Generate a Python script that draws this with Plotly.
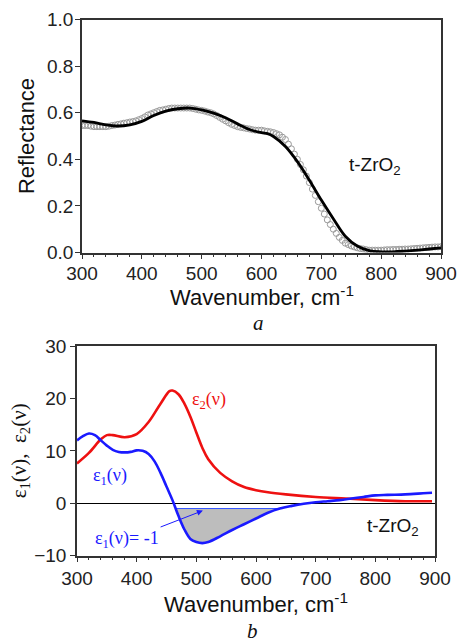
import numpy as np
import plotly.graph_objects as go

# ---------------- data: panel a (reflectance) ----------------
fit_x = [300, 320, 340, 360, 380, 400, 420, 440, 460, 480, 500, 520, 540, 560, 580, 600, 610,
         620, 640, 660, 680, 700, 720, 740, 760, 780, 800, 820, 840, 860, 880, 900]
fit_r = [0.565, 0.558, 0.548, 0.543, 0.548, 0.563, 0.588, 0.607, 0.617, 0.620, 0.612, 0.598,
         0.578, 0.552, 0.528, 0.514, 0.510, 0.498, 0.455, 0.390, 0.310, 0.225, 0.145, 0.070,
         0.028, 0.008, 0.003, 0.003, 0.006, 0.010, 0.015, 0.020]

exp_x = list(range(300, 901, 5))
exp_r = [
    0.545, 0.545, 0.545, 0.542, 0.540, 0.540, 0.540, 0.540, 0.540, 0.542,
    0.545, 0.547, 0.550, 0.552, 0.555, 0.557, 0.560, 0.562, 0.565, 0.570,
    0.575, 0.582, 0.590, 0.595, 0.600, 0.605, 0.610, 0.612, 0.615, 0.618,
    0.620, 0.620, 0.620, 0.620, 0.620, 0.620, 0.620, 0.618, 0.615, 0.612,
    0.610, 0.607, 0.603, 0.600, 0.595, 0.588, 0.580, 0.572, 0.565, 0.557,
    0.550, 0.545, 0.540, 0.537, 0.535, 0.532, 0.530, 0.527, 0.525, 0.525,
    0.525, 0.522, 0.520, 0.518, 0.515, 0.510, 0.505, 0.495, 0.485, 0.465,
    0.445, 0.422, 0.400, 0.378, 0.355, 0.328, 0.300, 0.272, 0.245, 0.218,
    0.190, 0.165, 0.140, 0.120, 0.100, 0.082, 0.065, 0.052, 0.040, 0.034,
    0.028, 0.024, 0.020, 0.017, 0.015, 0.012, 0.010, 0.010, 0.010, 0.010,
    0.010, 0.011, 0.012, 0.012, 0.013, 0.013, 0.014, 0.014, 0.015, 0.015,
    0.016, 0.017, 0.018, 0.019, 0.020, 0.021, 0.022, 0.023, 0.024, 0.024,
    0.025]

# ---------------- data: panel b (dielectric function) ----------------
eps1_x = [300, 310, 320, 330, 340, 350, 360, 370, 380, 390, 400, 410, 420, 430, 440, 450, 460,
          470, 480, 490, 500, 510, 520, 540, 560, 580, 600, 620, 640, 660, 680, 700, 720, 740,
          760, 780, 800, 820, 850, 880, 895]
eps1_y = [12.0, 12.8, 13.3, 13.0, 12.0, 11.0, 10.2, 9.8, 9.7, 9.8, 10.1, 10.0, 9.4, 8.0, 5.8,
          3.2, 0.6, -2.4, -5.0, -6.8, -7.4, -7.6, -7.4, -6.3, -5.1, -4.0, -2.9, -1.8, -1.0,
          -0.5, -0.1, 0.2, 0.4, 0.6, 0.9, 1.2, 1.5, 1.6, 1.7, 1.9, 2.0]

eps2_x = [300, 320, 340, 350, 360, 380, 400, 420, 440, 455, 460, 470, 480, 490, 500, 510, 520,
          540, 560, 580, 600, 620, 650, 700, 750, 800, 850, 895]
eps2_y = [7.6, 9.6, 12.2, 13.0, 13.0, 12.6, 13.2, 15.5, 19.0, 21.4, 21.5, 20.8, 19.0, 16.5,
          13.5, 10.6, 8.4, 5.8, 4.2, 3.1, 2.5, 2.1, 1.7, 1.2, 0.9, 0.6, 0.4, 0.4]

threshold = -1.0

# ---------------- shaded region where eps1 < -1 ----------------
ex = np.array(eps1_x, float)
ey = np.array(eps1_y, float)
idx = np.where(ey < threshold)[0]
i0, i1 = idx[0], idx[-1]
xa = ex[i0 - 1] + (threshold - ey[i0 - 1]) * (ex[i0] - ex[i0 - 1]) / (ey[i0] - ey[i0 - 1])
xb = ex[i1] + (threshold - ey[i1]) * (ex[i1 + 1] - ex[i1]) / (ey[i1 + 1] - ey[i1])
fill_x = [xa] + list(ex[i0:i1 + 1]) + [xb, xa]
fill_y = [threshold] + list(ey[i0:i1 + 1]) + [threshold, threshold]

SANS = "Liberation Sans, Arial, sans-serif"
SERIF = "Liberation Serif, Times New Roman, serif"
AX = "#333333"

fig = go.Figure()

# panel a
fig.add_trace(go.Scatter(x=exp_x, y=exp_r, mode="markers", xaxis="x", yaxis="y",
                         marker=dict(symbol="circle-open", size=6, color="#9a9a9a",
                                     line=dict(width=1, color="#9a9a9a")),
                         showlegend=False))
fig.add_trace(go.Scatter(x=fit_x, y=fit_r, mode="lines", xaxis="x", yaxis="y",
                         line=dict(color="black", width=2.8, shape="spline"),
                         showlegend=False))

# panel b
fig.add_trace(go.Scatter(x=fill_x, y=fill_y, mode="lines", xaxis="x2", yaxis="y2",
                         fill="toself", fillcolor="#bdbdbd", line=dict(width=0),
                         showlegend=False))
fig.add_trace(go.Scatter(x=[xa, xb], y=[threshold, threshold], mode="lines",
                         xaxis="x2", yaxis="y2", line=dict(color="#3355ff", width=1),
                         showlegend=False))
fig.add_trace(go.Scatter(x=eps2_x, y=eps2_y, mode="lines", xaxis="x2", yaxis="y2",
                         line=dict(color="#ee1111", width=2.6, shape="spline"),
                         showlegend=False))
fig.add_trace(go.Scatter(x=eps1_x, y=eps1_y, mode="lines", xaxis="x2", yaxis="y2",
                         line=dict(color="#1a1aff", width=2.6, shape="spline"),
                         showlegend=False))

W, H = 457, 641
tickfont = dict(family=SANS, size=19, color="#222222")
titlefont = dict(family=SANS, size=22, color="#111111")

common_x = dict(range=[300, 900], dtick=100, tick0=300, ticks="outside", ticklen=5,
                tickwidth=1.2, tickcolor=AX, showline=True, linecolor=AX, linewidth=1.5,
                mirror=True, showgrid=False, zeroline=False, tickfont=tickfont,
                automargin=False, ticklabeloverflow="allow",
                minor=dict(dtick=20, ticks="outside", ticklen=3, tickcolor=AX, tickwidth=1))

fig.update_layout(
    width=W, height=H, margin=dict(l=0, r=0, t=0, b=0, autoexpand=False),
    paper_bgcolor="white", plot_bgcolor="white",
    xaxis=dict(common_x, domain=[82 / W, 441 / W], anchor="y", ticklabelstandoff=-2),
    yaxis=dict(domain=[1 - 252.5 / H, 1 - 19.5 / H], anchor="x", range=[0, 1.0], dtick=0.2,
               tickformat=".1f", ticks="outside", ticklen=5, tickwidth=1.2, tickcolor=AX,
               showline=True, linecolor=AX, linewidth=1.5, mirror=True, showgrid=False,
               zeroline=False, tickfont=tickfont, ticklabelstandoff=-2, automargin=False,
               ticklabeloverflow="allow",
               title=dict(text="Reflectance", font=titlefont, standoff=6)),
    xaxis2=dict(common_x, domain=[77 / W, 435 / W], anchor="y2",
                title=dict(text="Wavenumber, cm<sup>-1</sup>", font=titlefont, standoff=6)),
    yaxis2=dict(domain=[1 - 555.7 / H, 1 - 346 / H], anchor="x2", range=[-10, 30], dtick=10,
                ticks="outside", ticklen=5, tickwidth=1.2, tickcolor=AX, automargin=False,
                showline=True, linecolor=AX, linewidth=1.5, mirror=True, showgrid=False,
                zeroline=True, zerolinecolor="black", zerolinewidth=1.2, tickfont=tickfont,
                ticklabeloverflow="allow",
                title=dict(text="ε<sub>1</sub>(ν),  ε<sub>2</sub>(ν)",
                           font=dict(family=SERIF, size=21, color="#111111"), standoff=2)),
)

ann = []
# top panel x-axis title (placed explicitly to leave room for the "a" label)
ann.append(dict(x=(82 + 441) / 2 / W, y=1 - 296 / H, xref="paper", yref="paper",
                text="Wavenumber, cm<sup>-1</sup>", showarrow=False,
                xanchor="center", yanchor="middle", font=titlefont))
ann.append(dict(x=790, y=0.37, xref="x", yref="y", text="t-ZrO<sub>2</sub>", showarrow=False,
                font=dict(family=SANS, size=19, color="#111111")))
ann.append(dict(x=830, y=-4.6, xref="x2", yref="y2", text="t-ZrO<sub>2</sub>", showarrow=False,
                font=dict(family=SANS, size=19, color="#111111")))
ann.append(dict(x=521, y=19.6, xref="x2", yref="y2", text="ε<sub>2</sub>(ν)", showarrow=False,
                font=dict(family=SERIF, size=18, color="#ee1111")))
ann.append(dict(x=355, y=5.2, xref="x2", yref="y2", text="ε<sub>1</sub>(ν)", showarrow=False,
                font=dict(family=SERIF, size=18, color="#1a1aff")))
ann.append(dict(x=511, y=-1.4, xref="x2", yref="y2", ax=384, ay=-7.0, axref="x2", ayref="y2",
                text="ε<sub>1</sub>(ν)= -1", showarrow=True, arrowhead=2, arrowsize=1.2,
                arrowwidth=1, arrowcolor="#1a1aff",
                font=dict(family=SERIF, size=18, color="#1a1aff")))
ann.append(dict(x=258 / W, y=1 - 323 / H, xref="paper", yref="paper", text="<i>a</i>",
                xanchor="center", yanchor="middle",
                showarrow=False, font=dict(family=SERIF, size=21, color="#111111")))
ann.append(dict(x=253 / W, y=1 - 631 / H, xref="paper", yref="paper", text="<i>b</i>",
                xanchor="center", yanchor="middle",
                showarrow=False, font=dict(family=SERIF, size=21, color="#111111")))
fig.update_layout(annotations=ann)

fig.write_html("out.html")
